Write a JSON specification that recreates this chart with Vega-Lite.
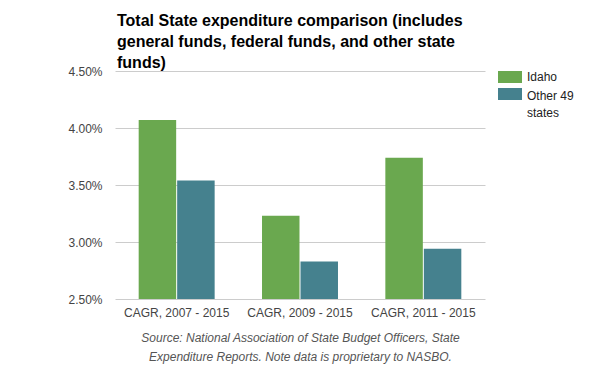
{
  "$schema": "https://vega.github.io/schema/vega-lite/v6.json",
  "width": 370,
  "height": 228,
  "autosize": {"type": "none"},
  "padding": {"left": 115, "top": 71, "right": 115, "bottom": 72},
  "background": "white",
  "title": {
    "text": ["Total State expenditure comparison (includes", "general funds, federal funds, and other state", "funds)"],
    "anchor": "start",
    "frame": "group",
    "font": "Liberation Sans",
    "fontSize": 16,
    "fontWeight": "bold",
    "color": "#000000",
    "lineHeight": 21,
    "offset": 8,
    "dx": 2,
    "dy": 14
  },
  "data": {
    "values": [
      {"period": "CAGR, 2007 - 2015", "group": "Idaho", "value": 0.0407},
      {"period": "CAGR, 2007 - 2015", "group": "Other 49 states", "value": 0.0354},
      {"period": "CAGR, 2009 - 2015", "group": "Idaho", "value": 0.0323},
      {"period": "CAGR, 2009 - 2015", "group": "Other 49 states", "value": 0.0283},
      {"period": "CAGR, 2011 - 2015", "group": "Idaho", "value": 0.0374},
      {"period": "CAGR, 2011 - 2015", "group": "Other 49 states", "value": 0.0294}
    ]
  },
  "mark": {"type": "bar", "clip": true},
  "encoding": {
    "x": {
      "field": "period",
      "type": "nominal",
      "sort": null,
      "scale": {"paddingInner": 0.384, "paddingOuter": 0.192},
      "axis": {
        "title": ["Source: National Association of State Budget Officers, State", "Expenditure Reports. Note data is proprietary to NASBO."],
        "titleFont": "Liberation Sans",
        "titleFontSize": 12,
        "titleFontStyle": "italic",
        "titleFontWeight": "normal",
        "titleColor": "#555555",
        "titleLineHeight": 19,
        "titlePadding": 14,
        "labelAngle": 0,
        "labelFont": "Liberation Sans",
        "labelFontSize": 12,
        "labelColor": "#444444",
        "labelPadding": 8,
        "ticks": false,
        "tickSize": 0,
        "domain": false
      }
    },
    "xOffset": {
      "field": "group",
      "type": "nominal",
      "scale": {"paddingInner": 0.026, "paddingOuter": 0}
    },
    "y": {
      "field": "value",
      "type": "quantitative",
      "scale": {"domain": [0.025, 0.045], "nice": false, "zero": false},
      "axis": {
        "title": null,
        "values": [0.025, 0.03, 0.035, 0.04, 0.045],
        "format": ".2%",
        "labelFont": "Liberation Sans",
        "labelFontSize": 12,
        "labelColor": "#444444",
        "labelPadding": 13,
        "ticks": false,
        "tickSize": 0,
        "domain": false,
        "grid": true,
        "gridColor": "#cccccc",
        "gridWidth": 1
      }
    },
    "color": {
      "field": "group",
      "type": "nominal",
      "scale": {"domain": ["Idaho", "Other 49 states"], "range": ["#6aa84f", "#45818e"]},
      "legend": {
        "title": null,
        "orient": "none",
        "legendX": 389,
        "legendY": 0,
        "padding": 0,
        "symbolType": "M-2,-1H2V1H-2Z",
        "symbolSize": 144,
        "symbolStrokeWidth": 0,
        "symbolOpacity": 1,
        "labelFont": "Liberation Sans",
        "labelFontSize": 12,
        "labelColor": "#222222",
        "labelOffset": 11,
        "rowPadding": 5,
        "labelExpr": "datum.label == 'Other 49 states' ? ['Other 49', 'states'] : datum.label",
        "labelLimit": 200,
        "labelBaseline": "middle",
        "encode": {
          "labels": {
            "update": {
              "lineHeight": {"value": 17},
              "dy": {"signal": "datum.label == 'Other 49 states' ? 1.5 : 0"}
            }
          }
        }
      }
    }
  },
  "config": {
    "view": {"stroke": null}
  }
}
